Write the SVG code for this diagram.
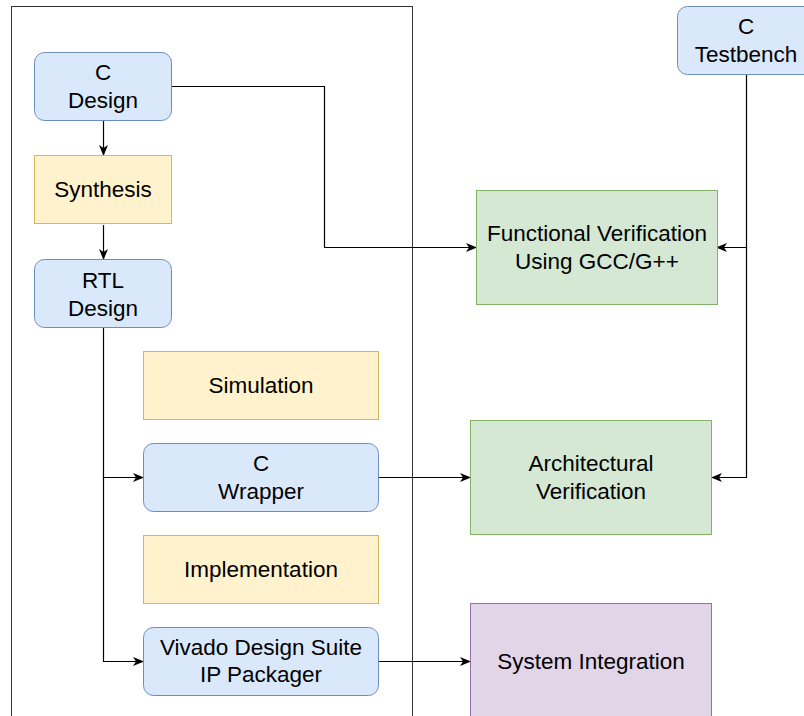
<svg xmlns="http://www.w3.org/2000/svg" width="804" height="716" viewBox="0 0 804 716">
  <style>
    .lbl { font-family: "Liberation Sans", Arial, Helvetica, sans-serif; font-size: 22.5px; fill: #000; text-anchor: middle; }
    .blue { fill: #dae8fc; stroke: #6c8ebf; stroke-width: 1; }
    .yellow { fill: #fff2cc; stroke: #d6b656; stroke-width: 1; }
    .green { fill: #d5e8d4; stroke: #82b366; stroke-width: 1; }
    .purple { fill: #e1d5e7; stroke: #9673a6; stroke-width: 1; }
    .edge { fill: none; stroke: #000; stroke-width: 1.2; marker-end: url(#arrow); }
  </style>
  <defs>
    <marker id="arrow" viewBox="0 0 11 9" refX="10" refY="4.5" markerWidth="11" markerHeight="9" markerUnits="userSpaceOnUse" orient="auto">
      <path d="M0,0 L11,4.5 L0,9 L3,4.5 Z" fill="#000"/>
    </marker>
  </defs>
  <rect width="804" height="716" fill="#fff"/>

  <!-- HLS container -->
  <g id="container">
    <rect x="11.5" y="6.5" width="401" height="720" fill="none" stroke="#333" stroke-width="1"/>
  </g>

  <!-- connectors -->
  <g id="connectors">
    <path class="edge" d="M103.5,121 V155"/>
    <path class="edge" d="M103.5,225 V259"/>
    <path class="edge" d="M103.5,328 V477.5 H143"/>
    <path class="edge" d="M103.5,477 V661.5 H143"/>
    <path class="edge" d="M172,86.5 H324.5 V247.5 H476"/>
    <path class="edge" d="M746.5,75 V247.5 H717"/>
    <path class="edge" d="M746.5,247 V477.5 H712"/>
    <path class="edge" d="M379,477.5 H470"/>
    <path class="edge" d="M379,661.5 H470"/>
  </g>

  <g id="c-design">
    <rect class="blue" x="34.5" y="52.5" width="137" height="68" rx="10"/>
    <text class="lbl" x="103" y="80">C</text>
    <text class="lbl" x="103" y="108">Design</text>
  </g>

  <g id="synthesis">
    <rect class="yellow" x="34.5" y="155.5" width="137" height="68"/>
    <text class="lbl" x="103" y="197">Synthesis</text>
  </g>

  <g id="rtl-design">
    <rect class="blue" x="34.5" y="259.5" width="137" height="68" rx="10"/>
    <text class="lbl" x="103" y="288">RTL</text>
    <text class="lbl" x="103" y="316">Design</text>
  </g>

  <g id="simulation">
    <rect class="yellow" x="143.5" y="351.5" width="235" height="68"/>
    <text class="lbl" x="261" y="393">Simulation</text>
  </g>

  <g id="c-wrapper">
    <rect class="blue" x="143.5" y="443.5" width="235" height="68" rx="10"/>
    <text class="lbl" x="261" y="471">C</text>
    <text class="lbl" x="261" y="499">Wrapper</text>
  </g>

  <g id="implementation">
    <rect class="yellow" x="143.5" y="535.5" width="235" height="68"/>
    <text class="lbl" x="261" y="577">Implementation</text>
  </g>

  <g id="ip-packager">
    <rect class="blue" x="143.5" y="627.5" width="235" height="68" rx="10"/>
    <text class="lbl" x="261" y="655">Vivado Design Suite</text>
    <text class="lbl" x="261" y="682">IP Packager</text>
  </g>

  <g id="c-testbench">
    <rect class="blue" x="677.5" y="6.5" width="138" height="68" rx="10"/>
    <text class="lbl" x="746" y="34">C</text>
    <text class="lbl" x="746" y="62">Testbench</text>
  </g>

  <g id="functional-verification">
    <rect class="green" x="476.5" y="190.5" width="241" height="114"/>
    <text class="lbl" x="597" y="241">Functional Verification</text>
    <text class="lbl" x="597" y="269">Using GCC/G++</text>
  </g>

  <g id="architectural-verification">
    <rect class="green" x="470.5" y="420.5" width="241" height="114"/>
    <text class="lbl" x="591" y="471">Architectural</text>
    <text class="lbl" x="591" y="499">Verification</text>
  </g>

  <g id="system-integration">
    <rect class="purple" x="470.5" y="603.5" width="241" height="130"/>
    <text class="lbl" x="591" y="669">System Integration</text>
  </g>
</svg>
